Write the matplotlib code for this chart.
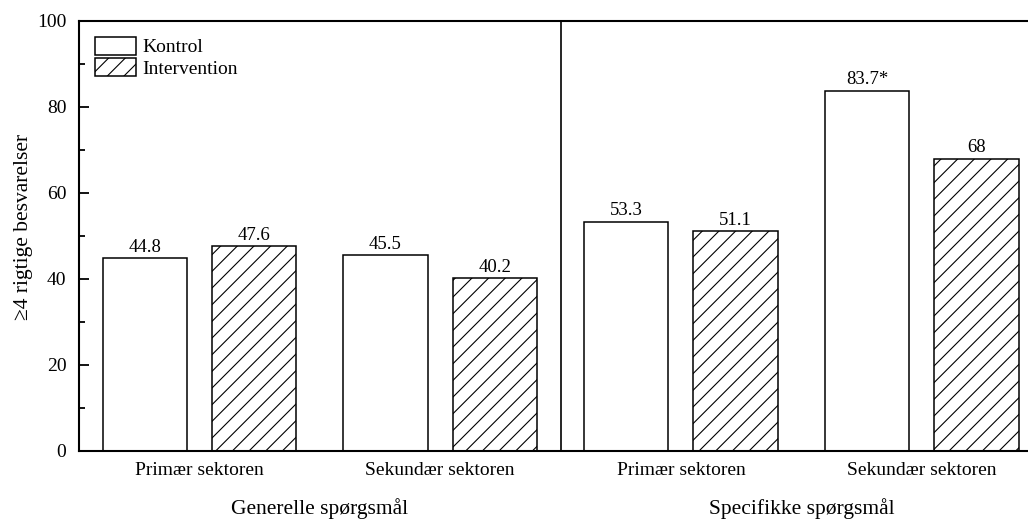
import numpy as np
import matplotlib
matplotlib.use('Agg')
from matplotlib import pyplot as plt

plt.rcParams['font.family'] = ['Liberation Serif', 'DejaVu Serif']
plt.rcParams['hatch.linewidth'] = 0.8

sektorer = ['Primær sektoren', 'Sekundær sektoren', 'Primær sektoren', 'Sekundær sektoren']
grupper = ['Generelle spørgsmål', 'Specifikke spørgsmål']
kontrol = [44.8, 45.5, 53.3, 83.7]
intervention = [47.6, 40.2, 51.1, 68]
kontrol_tekst = ['44.8', '45.5', '53.3', '83.7*']
intervention_tekst = ['47.6', '40.2', '51.1', '68']

fig = plt.figure(figsize=(10.28, 5.2), dpi=100)
ax = fig.add_axes([0.0768, 0.1327, 0.937, 0.827])

x = np.arange(len(sektorer))
off = 0.227
w = 0.35
b1 = ax.bar(x - off, kontrol, w, color='white', edgecolor='black', linewidth=1.1, label='Kontrol')
b2 = ax.bar(x + off, intervention, w, color='white', edgecolor='black', linewidth=1.1,
            hatch='//', label='Intervention')

for rect, t in zip(b1, kontrol_tekst):
    ax.text(rect.get_x() + rect.get_width() / 2, rect.get_height() + 0.6, t,
            ha='center', va='bottom', fontsize=13.5)
for rect, t in zip(b2, intervention_tekst):
    ax.text(rect.get_x() + rect.get_width() / 2, rect.get_height() + 0.6, t,
            ha='center', va='bottom', fontsize=13.5)

ax.axvline(1.5, color='black', linewidth=1.2)

ax.set_xlim(-0.5, 3.5)
ax.set_ylim(0, 100)
ax.set_yticks(np.arange(0, 101, 20))
ax.set_yticks(np.arange(10, 100, 20), minor=True)
ax.tick_params(axis='y', which='major', direction='in', length=7, width=1.3, labelsize=14, pad=9)
ax.tick_params(axis='y', which='minor', direction='in', length=4, width=1.3)
ax.set_xticks(x)
ax.set_xticklabels(sektorer, fontsize=14)
ax.tick_params(axis='x', length=0, pad=8)
for s in ax.spines.values():
    s.set_linewidth(1.5)

ax.set_ylabel('≥4 rigtige besvarelser', fontsize=15.5)
ax.yaxis.set_label_coords(-0.048, 0.52)

for i, g in enumerate(grupper):
    ax.text(0.5 + 2 * i, -0.11, g, transform=ax.get_xaxis_transform(),
            ha='center', va='top', fontsize=15.5)

ax.legend(loc='upper left', frameon=False, fontsize=14, handlelength=2.15,
          handleheight=1.08, labelspacing=0.08, handletextpad=0.3,
          borderaxespad=0.4, bbox_to_anchor=(0.0, 1.0))

fig.savefig('out.png', dpi=100)
